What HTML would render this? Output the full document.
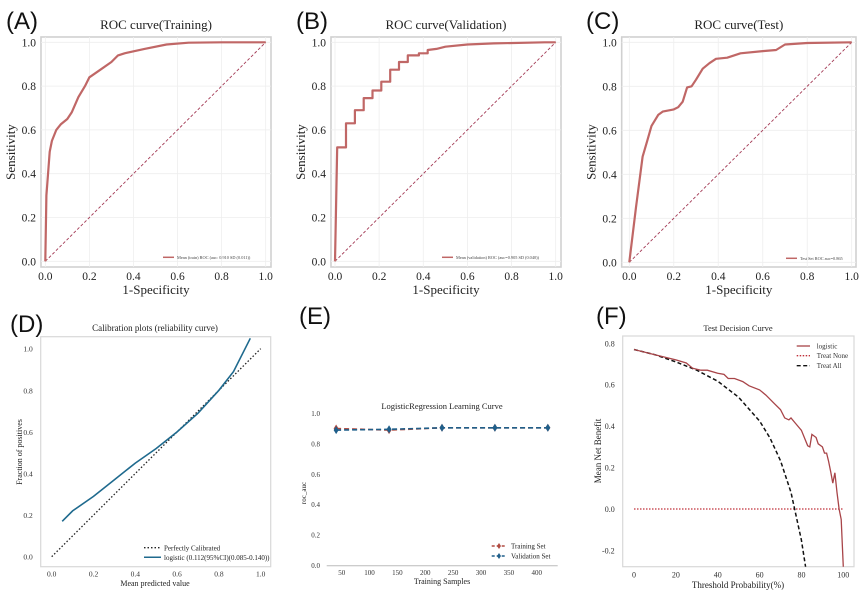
<!DOCTYPE html>
<html><head><meta charset="utf-8"><style>
html,body{margin:0;padding:0;background:#fff;}
svg{display:block;font-family:"Liberation Serif",serif;}
.pl{font-family:"Liberation Sans",sans-serif;font-size:24px;fill:#111;}
</style></head><body>
<svg id="fig" width="867" height="603" viewBox="0 0 867 603" xmlns="http://www.w3.org/2000/svg">
<text class="pl" x="6" y="29">(A)</text>
<text class="pl" x="296" y="29">(B)</text>
<text class="pl" x="586" y="29">(C)</text>
<text class="pl" x="10" y="332">(D)</text>
<text class="pl" x="299" y="324">(E)</text>
<text class="pl" x="596" y="324">(F)</text>
</svg>
<script>
// ROC data
const rocA_fpr=[0,0.005,0.02,0.03,0.05,0.07,0.1,0.12,0.15,0.18,0.2,0.25,0.3,0.33,0.36,0.45,0.55,0.65,0.8,1];
const rocA_tpr=[0,0.3,0.5,0.55,0.6,0.625,0.65,0.68,0.75,0.8,0.84,0.875,0.91,0.94,0.95,0.97,0.99,0.998,1,1];
const rocB_fpr=[0,0.01,0.05,0.05,0.09,0.09,0.13,0.13,0.17,0.17,0.21,0.21,0.25,0.25,0.29,0.29,0.33,0.33,0.38,0.38,0.42,0.42,0.46,0.5,0.6,0.72,0.95,1];
const rocB_tpr=[0,0.52,0.52,0.63,0.63,0.69,0.69,0.745,0.745,0.78,0.78,0.82,0.82,0.875,0.875,0.91,0.91,0.94,0.94,0.95,0.95,0.965,0.97,0.98,0.99,0.995,1,1];
const rocC_fpr=[0,0.03,0.06,0.08,0.1,0.13,0.15,0.2,0.22,0.24,0.26,0.28,0.3,0.33,0.36,0.39,0.44,0.5,0.6,0.66,0.7,0.8,1];
const rocC_tpr=[0,0.25,0.48,0.55,0.62,0.67,0.685,0.695,0.705,0.73,0.795,0.8,0.83,0.88,0.905,0.925,0.93,0.95,0.96,0.965,0.99,0.997,1];
const rocTicks=[0,0.2,0.4,0.6,0.8,1.0];
const rocTickLabels=["0.0","0.2","0.4","0.6","0.8","1.0"];
// Calibration
const calX=[0.05,0.1,0.2,0.3,0.4,0.5,0.6,0.7,0.8,0.87,0.95];
const calY=[0.17,0.22,0.29,0.37,0.45,0.52,0.6,0.69,0.8,0.89,1.05];
// Learning curve
const lcSamples=[40,135,230,325,420];
const lcTrain=[0.90,0.89,0.905,0.905,0.905];
const lcValid=[0.89,0.895,0.905,0.905,0.905];
const lcXTicks=[50,100,150,200,250,300,350,400];
const lcYTicks=[0,0.2,0.4,0.6,0.8,1.0];
// Decision curve
const dcaPt=[0,10,20,25,28,32,35,40,43,45,48,52,55,60,63,67,70,72,74,75,77,80,82,83,84,85,87,88,90,91,92,93,94,95,96,97,98,99,100];
const dcaModel=[0.77,0.745,0.72,0.705,0.68,0.67,0.67,0.655,0.65,0.63,0.63,0.615,0.595,0.575,0.55,0.51,0.48,0.44,0.43,0.44,0.415,0.38,0.33,0.305,0.30,0.36,0.345,0.315,0.30,0.27,0.27,0.23,0.18,0.125,0.175,0.08,0.0,-0.05,-0.28];
const dcaAllPt=[0,10,20,30,40,50,60,65,70,75,80,82];
const dcaAll=[0.77,0.745,0.71,0.67,0.617,0.54,0.425,0.343,0.233,0.08,-0.15,-0.28];
const dcaNonePt=[0,100];
const dcaNone=[0,0];
const dcaXTicks=[0,20,40,60,80,100];
const dcaYTicks=[-0.2,0,0.2,0.4,0.6,0.8];

const NS="http://www.w3.org/2000/svg";
const svg=document.getElementById('fig');
function mk(tag,attrs,name,parent,txt){
  const el=document.createElementNS(NS,tag);
  for(const k in attrs) el.setAttribute(k,attrs[k]);
  
  
  if(txt!==undefined) el.textContent=txt;
  (parent||svg).appendChild(el);
  return el;
}
function lin(d0,d1,r0,r1){return v=>r0+(v-d0)/(d1-d0)*(r1-r0);}
function pathD(xs,ys,sx,sy){return xs.map((x,i)=>(i?'L':'M')+sx(x).toFixed(1)+','+sy(ys[i]).toFixed(1)).join('');}

function rocPanel(id,f,x0,x1,y0,y1,title,fpr,tpr,legend,legX){
  const g=mk('g',{},'roc-panel-'+id);
  const sx=lin(0,1,x0,x1), sy=lin(0,1,y0,y1);
  mk('rect',{x:f[0],y:f[1],width:f[2]-f[0],height:f[3]-f[1],fill:'#fff',stroke:'#d0d0d0','stroke-width':1.6},'plot-frame',g);
  rocTicks.forEach((t,i)=>{
    mk('line',{x1:sx(t),x2:sx(t),y1:f[1],y2:f[3],stroke:'#eeeeee','stroke-width':0.8},'x-grid-line',g);
    mk('line',{x1:f[0],x2:f[2],y1:sy(t),y2:sy(t),stroke:'#eeeeee','stroke-width':0.8},'y-grid-line',g);
    mk('text',{x:sx(t),y:f[3]+13,'font-size':11.5,'text-anchor':'middle',fill:'#222'},'x-tick-label',g,rocTickLabels[i]);
    mk('text',{x:f[0]-5,y:sy(t)+4,'font-size':11.5,'text-anchor':'end',fill:'#222'},'y-tick-label',g,rocTickLabels[i]);
  });
  mk('line',{x1:sx(0),y1:sy(0),x2:sx(1),y2:sy(1),stroke:'#a33a55','stroke-width':0.9,'stroke-dasharray':'3,2'},'chance-diagonal',g);
  mk('path',{d:pathD(fpr,tpr,sx,sy),fill:'none',stroke:'#c06766','stroke-width':2.2,'stroke-linejoin':'round'},'roc-curve',g);
  mk('text',{x:(f[0]+f[2])/2,y:f[1]-8,'font-size':13,'text-anchor':'middle',fill:'#222'},'chart-title',g,title);
  mk('text',{x:(f[0]+f[2])/2,y:f[3]+27,'font-size':13,'text-anchor':'middle',fill:'#222'},'x-axis-title',g,'1-Specificity');
  mk('text',{x:0,y:0,'font-size':13,'text-anchor':'middle',fill:'#222',transform:`translate(${f[0]-26},${(f[1]+f[3])/2}) rotate(-90)`},'y-axis-title',g,'Sensitivity');
  mk('line',{x1:legX,x2:legX+11,y1:y0-4,y2:y0-4,stroke:'#c06766','stroke-width':1.5},'legend-line',g);
  mk('text',{x:legX+14,y:y0-2.5,'font-size':4.3,fill:'#444'},'legend-entry',g,legend);
}
rocPanel('a',[41,37,271,267],45.3,265.7,261.3,42.3,'ROC curve(Training)',rocA_fpr,rocA_tpr,'Mean (train) ROC (auc: 0.910 SD (0.011))',163);
rocPanel('b',[331,37,561,267],335,555.7,261.3,42.3,'ROC curve(Validation)',rocB_fpr,rocB_tpr,'Mean (validation) ROC (auc=0.905 SD (0.040))',442);
rocPanel('c',[621.7,37,856,267],629.3,851.7,262.3,42.3,'ROC curve(Test)',rocC_fpr,rocC_tpr,'Test Set ROC auc=0.865',786);

// Panel D
(function(){
  const g=mk('g',{},'calibration-panel');
  const f=[40.7,336.7,270.7,566.7];
  const sx=lin(0,1,51.7,260.7), sy=lin(0,1,556.7,348.7);
  mk('rect',{x:f[0],y:f[1],width:f[2]-f[0],height:f[3]-f[1],fill:'#fff',stroke:'#d8d8d8','stroke-width':1.2},'plot-frame',g);
  const cp=mk('clipPath',{id:'clipD'},'clip-d',g);
  mk('rect',{x:f[0],y:f[1],width:f[2]-f[0],height:f[3]-f[1]},'clip-rect',cp);
  rocTicks.forEach((t,i)=>{
    mk('text',{x:sx(t),y:f[3]+10,'font-size':7.5,'text-anchor':'middle',fill:'#333'},'x-tick-label',g,rocTickLabels[i]);
    mk('text',{x:f[0]-8,y:sy(t)+3,'font-size':7.5,'text-anchor':'end',fill:'#333'},'y-tick-label',g,rocTickLabels[i]);
  });
  mk('line',{x1:sx(0),y1:sy(0),x2:sx(1),y2:sy(1),stroke:'#222','stroke-width':1.3,'stroke-dasharray':'1.5,2'},'perfect-calibration-line',g);
  mk('path',{d:pathD(calX,calY,sx,sy),fill:'none',stroke:'#1f6a8e','stroke-width':1.6,'clip-path':'url(#clipD)'},'calibration-curve',g);
  mk('text',{x:155,y:331,'font-size':9,'text-anchor':'middle',fill:'#222'},'chart-title',g,'Calibration plots  (reliability curve)');
  mk('text',{x:155,y:586,'font-size':8,'text-anchor':'middle',fill:'#222'},'x-axis-title',g,'Mean predicted value');
  mk('text',{x:0,y:0,'font-size':8,'text-anchor':'middle',fill:'#222',transform:'translate(22,452) rotate(-90)'},'y-axis-title',g,'Fraction of positives');
  mk('line',{x1:144,x2:161,y1:547.7,y2:547.7,stroke:'#222','stroke-width':1.3,'stroke-dasharray':'1.5,2'},'legend-line-perfect',g);
  mk('text',{x:164,y:550.5,'font-size':7,fill:'#222'},'legend-entry',g,'Perfectly Calibrated');
  mk('line',{x1:144,x2:161,y1:557.3,y2:557.3,stroke:'#1f6a8e','stroke-width':1.5},'legend-line-logistic',g);
  mk('text',{x:164,y:560,'font-size':7,fill:'#222'},'legend-entry',g,'logistic (0.112(95%CI)(0.085-0.140))');
})();

// Panel E
(function(){
  const g=mk('g',{},'learning-curve-panel');
  const sx=lin(50,400,341.7,536.7), sy=lin(0,1,565.7,413.3);
  mk('line',{x1:326.7,x2:557.7,y1:565.7,y2:565.7,stroke:'#bbb','stroke-width':1},'x-axis-line',g);
  lcXTicks.forEach(t=>mk('text',{x:sx(t),y:575,'font-size':7,'text-anchor':'middle',fill:'#333'},'x-tick-label',g,String(t)));
  lcYTicks.forEach(t=>mk('text',{x:320,y:sy(t)+2.5,'font-size':7,'text-anchor':'end',fill:'#333'},'y-tick-label',g,t.toFixed(1)));
  function series(ys,col,name){
    mk('path',{d:pathD(lcSamples,ys,sx,sy),fill:'none',stroke:col,'stroke-width':1.6,'stroke-dasharray':'5,3'},name+'-line',g);
    lcSamples.forEach((s,i)=>mk('path',{d:`M${sx(s)},${sy(ys[i])-4}L${sx(s)+2.5},${sy(ys[i])}L${sx(s)},${sy(ys[i])+4}L${sx(s)-2.5},${sy(ys[i])}Z`,fill:col},name+'-marker',g));
  }
  series(lcTrain,'#b04a40','training-set');
  series(lcValid,'#1f5f8a','validation-set');
  mk('text',{x:442,y:409,'font-size':8.5,'text-anchor':'middle',fill:'#222'},'chart-title',g,'LogisticRegression Learning Curve');
  mk('text',{x:442,y:584,'font-size':8,'text-anchor':'middle',fill:'#222'},'x-axis-title',g,'Training Samples');
  mk('text',{x:0,y:0,'font-size':7,'text-anchor':'middle',fill:'#222',transform:'translate(306,493) rotate(-90)'},'y-axis-title',g,'roc_auc');
  [['Training Set','#b04a40',546],['Validation Set','#1f5f8a',556]].forEach(r=>{
    mk('line',{x1:491.7,x2:506.7,y1:r[2],y2:r[2],stroke:r[1],'stroke-width':1.4,'stroke-dasharray':'3,2'},'legend-line',g);
    mk('path',{d:`M499,${r[2]-3}L501,${r[2]}L499,${r[2]+3}L497,${r[2]}Z`,fill:r[1]},'legend-marker',g);
    mk('text',{x:511,y:r[2]+2.5,'font-size':7,fill:'#222'},'legend-entry',g,r[0]);
  });
})();

// Panel F
(function(){
  const g=mk('g',{},'decision-curve-panel');
  const f=[622.7,336,854,566.7];
  const sx=lin(0,100,634,843.3), sy=lin(0,0.8,509,343.3);
  mk('rect',{x:f[0],y:f[1],width:f[2]-f[0],height:f[3]-f[1],fill:'#fff',stroke:'#d8d8d8','stroke-width':1.2},'plot-frame',g);
  const cp=mk('clipPath',{id:'clipF'},'clip-f',g);
  mk('rect',{x:f[0],y:f[1],width:f[2]-f[0],height:f[3]-f[1]},'clip-rect',cp);
  dcaXTicks.forEach(t=>mk('text',{x:sx(t),y:f[3]+11,'font-size':8,'text-anchor':'middle',fill:'#333'},'x-tick-label',g,String(t)));
  dcaYTicks.forEach(t=>mk('text',{x:f[0]-8,y:sy(t)+3,'font-size':8,'text-anchor':'end',fill:'#333'},'y-tick-label',g,t.toFixed(1)));
  mk('path',{d:pathD(dcaNonePt,dcaNone,sx,sy),fill:'none',stroke:'#c0303a','stroke-width':1.3,'stroke-dasharray':'1.5,1.5'},'treat-none-line',g);
  mk('path',{d:pathD(dcaAllPt,dcaAll,sx,sy),fill:'none',stroke:'#111','stroke-width':1.5,'stroke-dasharray':'4,2.5','clip-path':'url(#clipF)'},'treat-all-line',g);
  mk('path',{d:pathD(dcaPt,dcaModel,sx,sy),fill:'none',stroke:'#a84448','stroke-width':1.3,'clip-path':'url(#clipF)'},'logistic-line',g);
  mk('text',{x:738,y:331,'font-size':8.5,'text-anchor':'middle',fill:'#222'},'chart-title',g,'Test Decision Curve');
  mk('text',{x:738,y:588,'font-size':9,'text-anchor':'middle',fill:'#222'},'x-axis-title',g,'Threshold Probability(%)');
  mk('text',{x:0,y:0,'font-size':9,'text-anchor':'middle',fill:'#222',transform:'translate(601,451) rotate(-90)'},'y-axis-title',g,'Mean Net Benefit');
  [['logistic','#a84448',346,''],['Treat None','#c0303a',355.7,'1.5,1.5'],['Treat All','#111',365.7,'4,2.5']].forEach(r=>{
    mk('line',{x1:796.7,x2:810,y1:r[2],y2:r[2],stroke:r[1],'stroke-width':1.3,'stroke-dasharray':r[3]},'legend-line',g);
    mk('text',{x:816.7,y:r[2]+2.5,'font-size':7,fill:'#333'},'legend-entry',g,r[0]);
  });
})();
</script>
</body></html>
